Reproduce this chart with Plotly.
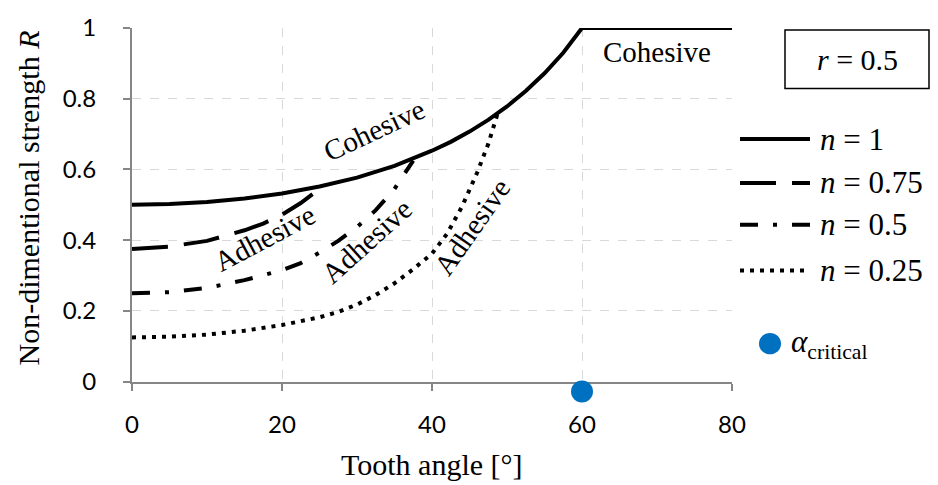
import plotly.graph_objects as go

# Tooth angle [deg] and non-dimensional strength R for each n (r = 0.5)
angle_n100 = [0, 5, 10, 15, 20, 25, 30, 35, 40, 42.5, 45, 47.5, 50, 52.5, 55, 57.5, 60, 80]
r_n100 = [0.500, 0.502, 0.508, 0.518, 0.532, 0.552, 0.577, 0.610, 0.653, 0.678,
          0.707, 0.740, 0.778, 0.822, 0.872, 0.930, 1.000, 1.000]

angle_n075 = [0, 5, 10, 15, 17.5, 20, 22.5, 25.3]
r_n075 = [0.375, 0.382, 0.398, 0.428, 0.447, 0.472, 0.505, 0.550]

angle_n050 = [0, 5, 10, 15, 20, 22.5, 25, 27.5, 30, 32.5, 35, 37.5]
r_n050 = [0.250, 0.253, 0.265, 0.287, 0.315, 0.335, 0.365, 0.398, 0.437, 0.485, 0.545, 0.625]

angle_n025 = [0, 5, 10, 15, 20, 25, 27.5, 30, 32.5, 35, 37.5, 40, 42, 44, 46, 47.5, 48.7]
r_n025 = [0.125, 0.127, 0.133, 0.144, 0.160, 0.182, 0.197, 0.218, 0.245, 0.278,
          0.318, 0.362, 0.418, 0.495, 0.590, 0.672, 0.755]

alpha_critical = [60]
alpha_critical_r = [-0.028]

x_ticks = [0, 20, 40, 60, 80]
y_ticks = [0, 0.2, 0.4, 0.6, 0.8, 1.0]
y_ticktext = ["0", "0.2", "0.4", "0.6", "0.8", "1"]

series = [
    ("1", angle_n100, r_n100, "solid", 4),
    ("0.75", angle_n075, r_n075, "36px,16px", 4),
    ("0.5", angle_n050, r_n050, "18px,15px,4px,15px", 4),
    ("0.25", angle_n025, r_n025, "4px,6px", 4),
]

SERIF = "Liberation Serif"
TICKFONT = dict(family="Lato", size=24, color="black")
BLUE = "#0070C0"
AXIS_GREY = "#868686"

# Figure geometry (px): plot area spans 18..405 vertically; the R axis uses its upper part
W, H = 938, 485
M_L, M_R, M_T, M_B = 132, 206, 18, 80
AREA_H = H - M_T - M_B
R_AXIS_BOTTOM = 381
R_SPAN = R_AXIS_BOTTOM - M_T
y_dom0 = (H - M_B - R_AXIS_BOTTOM) / AREA_H
# secondary R axis spans the full area with the same px-per-unit scale
r2_low = -(H - M_B - R_AXIS_BOTTOM) / R_SPAN


def py(px_from_top):
    return (H - M_B - px_from_top) / AREA_H


def px_x(px_from_left):
    return (px_from_left - M_L) / (W - M_L - M_R)


fig = go.Figure()
for n, xs, ys, dash, w in series:
    fig.add_trace(go.Scatter(x=xs, y=ys, mode="lines", name="n = " + n,
                             line=dict(color="black", width=w, dash=dash),
                             showlegend=False))

fig.add_trace(go.Scatter(x=alpha_critical, y=alpha_critical_r, mode="markers",
                         xaxis="x2", yaxis="y2",
                         marker=dict(color=BLUE, size=22), showlegend=False))

# Region labels along the curves
labels = [
    ("Cohesive", 32.3, 0.712, -25),
    ("Cohesive", 70.0, 0.931, 0),
    ("Adhesive", 17.7, 0.405, -28),
    ("Adhesive", 31.3, 0.397, -42),
    ("Adhesive", 45.3, 0.438, -55),
]
annotations = []
for txt, x, y, ang in labels:
    annotations.append(dict(text=txt, x=x, y=y, xref="x", yref="y", showarrow=False,
                            textangle=ang, font=dict(family=SERIF, size=29, color="black"),
                            xanchor="center", yanchor="middle"))

# Axis titles
annotations.append(dict(text="Tooth angle [°]", x=0.5, y=py(466), xref="paper", yref="paper",
                        showarrow=False, font=dict(family=SERIF, size=30, color="black"),
                        xanchor="center", yanchor="middle"))
annotations.append(dict(text="Non-dimentional strength <i>R</i>", x=px_x(28), y=py(193),
                        xref="paper", yref="paper", showarrow=False, textangle=-90,
                        font=dict(family=SERIF, size=30, color="black"),
                        xanchor="center", yanchor="middle"))

# Parameter box
shapes = [dict(type="rect", xref="paper", yref="paper", x0=px_x(785), x1=px_x(929),
               y0=py(80), y1=py(20), line=dict(color="black", width=1.5), fillcolor="white")]
annotations.append(dict(text="<i>r</i> = 0.5", x=px_x(857), y=py(50), xref="paper",
                        yref="paper", showarrow=False,
                        font=dict(family=SERIF, size=30, color="black"),
                        xanchor="center", yanchor="middle"))

# Legend: line samples and labels
legend_rows = [132, 177, 220, 267]
for (n, _, _, dash, w), row in zip(series, legend_rows):
    shapes.append(dict(type="line", xref="paper", yref="paper", x0=px_x(740), x1=px_x(810),
                       y0=py(row), y1=py(row), line=dict(color="black", width=w, dash=dash)))
    annotations.append(dict(text="<i>n</i> = " + n, x=px_x(818), y=py(row), xref="paper",
                            yref="paper", showarrow=False,
                            font=dict(family=SERIF, size=31, color="black"),
                            xanchor="left", yanchor="middle"))

shapes.append(dict(type="circle", xref="paper", yref="paper",
                   x0=px_x(759), x1=px_x(781), y0=py(353), y1=py(331),
                   line=dict(width=0), fillcolor=BLUE))
annotations.append(dict(text="<i>α</i><sub>critical</sub>", x=px_x(789), y=py(342),
                        xref="paper", yref="paper", showarrow=False,
                        font=dict(family=SERIF, size=31, color="black"),
                        xanchor="left", yanchor="middle"))

axis_common = dict(showline=True, linecolor=AXIS_GREY, linewidth=2, ticks="outside",
                   ticklen=7, tickwidth=2, tickcolor=AXIS_GREY, showgrid=True,
                   gridcolor="#D9D9D9", griddash="dash", gridwidth=1, zeroline=False,
                   tickfont=TICKFONT, layer="below traces")

fig.update_layout(
    width=W, height=H,
    margin=dict(l=M_L, r=M_R, t=M_T, b=M_B),
    plot_bgcolor="rgba(0,0,0,0)", paper_bgcolor="white",
    xaxis=dict(range=[0, 80], tickvals=x_ticks, ticklabelstandoff=14, anchor="y",
               **axis_common),
    yaxis=dict(range=[0, 1], domain=[y_dom0, 1], tickvals=y_ticks, ticktext=y_ticktext,
               ticklabelstandoff=22, anchor="x", **axis_common),
    xaxis2=dict(range=[0, 80], domain=[0, 1], anchor="y2", visible=False),
    yaxis2=dict(range=[r2_low, 1], domain=[0, 1], anchor="x2", visible=False),
    annotations=annotations,
    shapes=shapes,
)

fig.write_html("out.html")
